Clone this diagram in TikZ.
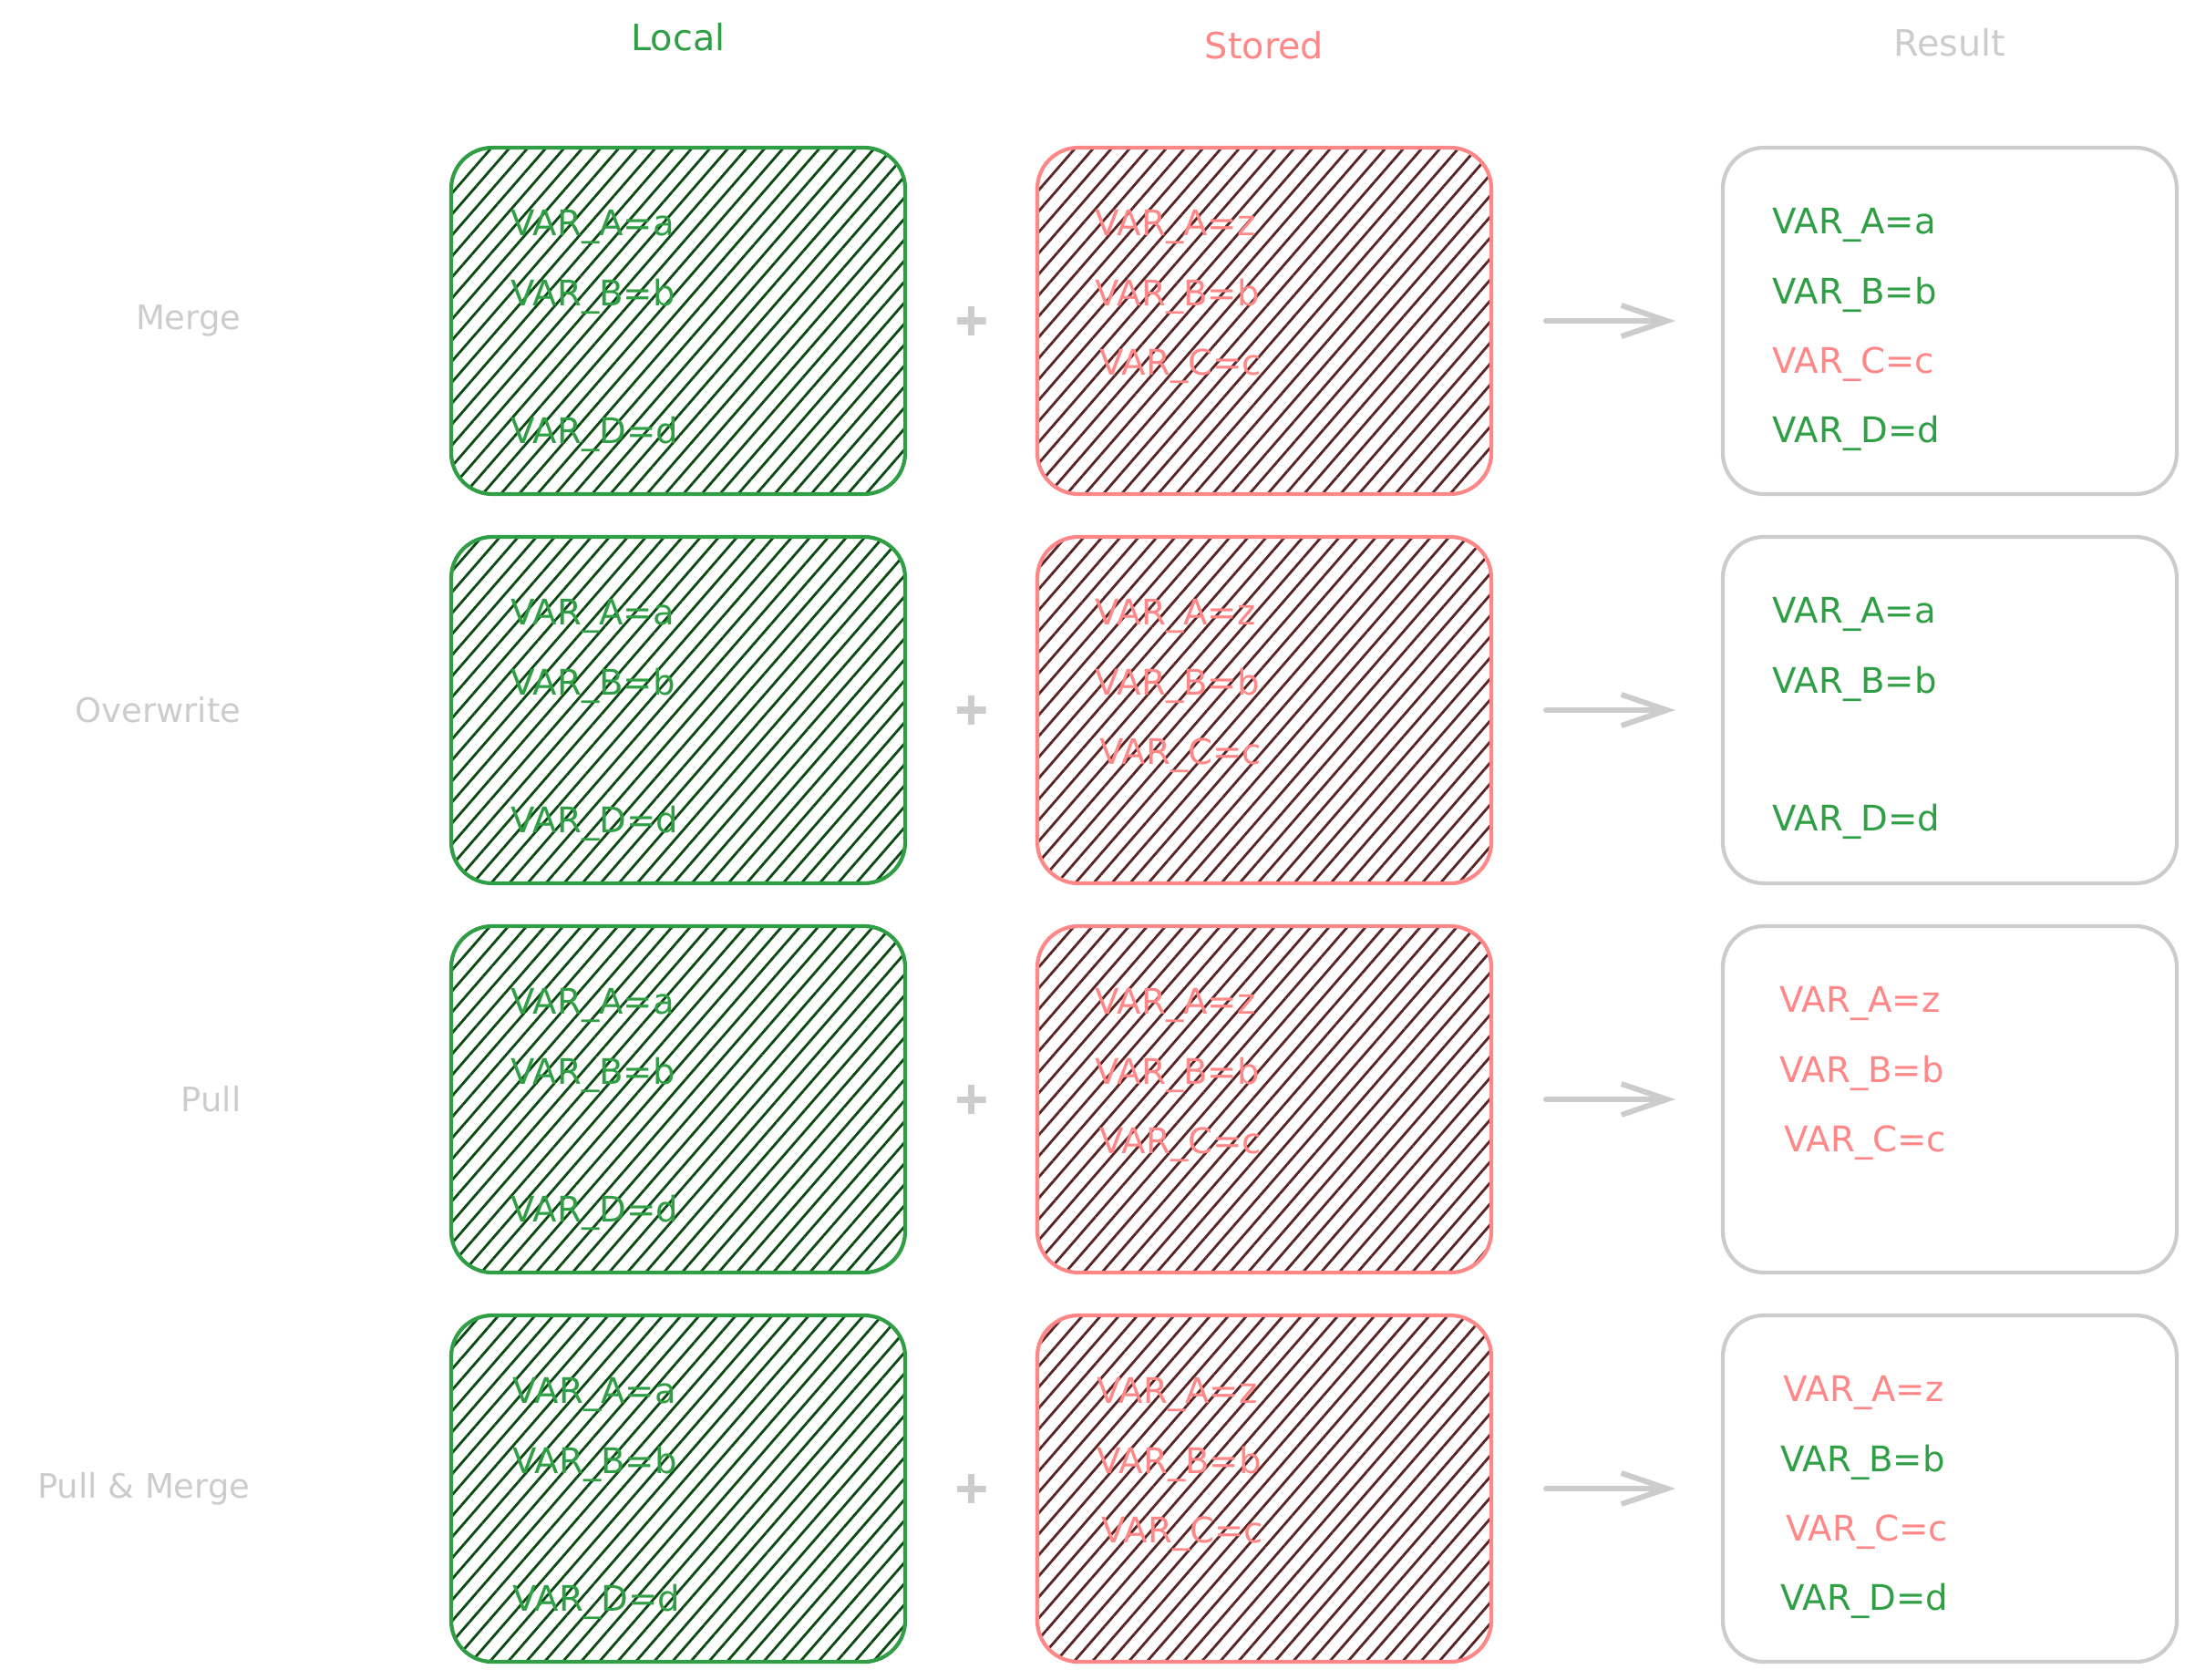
\documentclass[tikz,border=0pt]{standalone}
\usepackage{fontspec}
\setmainfont{DejaVu Sans}
\usetikzlibrary{positioning,calc,patterns.meta,arrows.meta}
\definecolor{localgreen}{HTML}{2F9E44}
\definecolor{storedred}{HTML}{FF8787}
\definecolor{resultgray}{HTML}{CCCCCC}
\definecolor{hatchgreen}{HTML}{0B4A12}
\definecolor{hatchred}{HTML}{5A2424}
\tikzstyle{box}=[rectangle,rounded corners=0.45cm,line width=1.2pt,
minimum width=4.98cm,minimum height=3.8cm,inner sep=0pt,outer sep=0pt]
\tikzstyle{localbox}=[box,draw=localgreen,
pattern={Lines[angle=49,distance=4.3pt,line width=0.8pt]},pattern color=hatchgreen]
\tikzstyle{storedbox}=[box,draw=storedred,
pattern={Lines[angle=49,distance=4.3pt,line width=0.8pt]},pattern color=hatchred]
\tikzstyle{resultbox}=[box,draw=resultgray]
\tikzstyle{var}=[font=\fontsize{11}{13}\selectfont,inner sep=0pt,
text width=2.4cm,align=left,text height=0.31cm,text depth=0.09cm]
\tikzstyle{gvar}=[var,text=localgreen]
\tikzstyle{rvar}=[var,text=storedred]
\tikzstyle{title}=[font=\fontsize{11.3}{13}\selectfont,inner sep=0pt,text depth=0pt]
\tikzstyle{rowlabel}=[font=\fontsize{10.5}{12}\selectfont,text=resultgray,inner sep=0pt]
\tikzstyle{plus}=[minimum size=0.32cm,inner sep=0pt,
path picture={\draw[resultgray,line width=2pt]
(path picture bounding box.north) -- (path picture bounding box.south)
(path picture bounding box.west) -- (path picture bounding box.east);}]
\tikzstyle{flow}=[draw=resultgray,line width=1.7pt,line cap=round,
-{Straight Barb[length=5mm,width=3.4mm]},shorten <=0.6cm,shorten >=0.52cm]

\begin{document}
\begin{tikzpicture}
            \useasboundingbox (0,0) rectangle (24.08,-18.42);

            % MERGE PART

            \node[localbox,anchor=north west] (l1) at (4.95,-1.62) {};
            \node[storedbox,right=1.45cm of l1] (s1) {};
            \node[resultbox,right=2.54cm of s1] (r1) {};
            \node[rowlabel,left=2.3cm of l1] (m1) {Merge};

            \node[title,text=localgreen,above=1.06cm of l1] (h1) {Local};
            \node[title,text=storedred,above=0.97cm of s1] (h2) {Stored};
            \node[title,text=resultgray,above=1.0cm of r1] (h3) {Result};

            \node[gvar,below right=0.65cm and 0.65cm of l1.north west] (la1) {VAR\_A=a};
            \node[gvar,below=0.35cm of la1] (lb1) {VAR\_B=b};
            \node[gvar,below=1.1cm of lb1] (ld1) {VAR\_D=d};

            \node[rvar,below right=0.65cm and 0.63cm of s1.north west] (sa1) {VAR\_A=z};
            \node[rvar,below=0.35cm of sa1] (sb1) {VAR\_B=b};
            \node[rvar,below=0.35cm of sb1,xshift=0.05cm] (sc1) {VAR\_C=c};

            \node[gvar,below right=0.63cm and 0.54cm of r1.north west] (ra1) {VAR\_A=a};
            \node[gvar,below=0.35cm of ra1] (rb1) {VAR\_B=b};
            \node[rvar,below=0.35cm of rb1] (rc1) {VAR\_C=c};
            \node[gvar,below=0.35cm of rc1] (rd1) {VAR\_D=d};

            \node[plus] (pl1) at ($(l1.east)!0.5!(s1.west)$) {};
            \path[flow] (s1) edge (r1);

            % OVERWRITE PART

            \node[localbox,below=0.47cm of l1] (l2) {};
            \node[storedbox,right=1.45cm of l2] (s2) {};
            \node[resultbox,right=2.54cm of s2] (r2) {};
            \node[rowlabel,left=2.3cm of l2] (m2) {Overwrite};

            \node[gvar,below right=0.65cm and 0.65cm of l2.north west] (la2) {VAR\_A=a};
            \node[gvar,below=0.35cm of la2] (lb2) {VAR\_B=b};
            \node[gvar,below=1.1cm of lb2] (ld2) {VAR\_D=d};

            \node[rvar,below right=0.65cm and 0.63cm of s2.north west] (sa2) {VAR\_A=z};
            \node[rvar,below=0.35cm of sa2] (sb2) {VAR\_B=b};
            \node[rvar,below=0.35cm of sb2,xshift=0.05cm] (sc2) {VAR\_C=c};

            \node[gvar,below right=0.63cm and 0.54cm of r2.north west] (ra2) {VAR\_A=a};
            \node[gvar,below=0.35cm of ra2] (rb2) {VAR\_B=b};
            \node[gvar,below=1.1cm of rb2] (rd2) {VAR\_D=d};

            \node[plus] (pl2) at ($(l2.east)!0.5!(s2.west)$) {};
            \path[flow] (s2) edge (r2);

            % PULL PART

            \node[localbox,below=0.47cm of l2] (l3) {};
            \node[storedbox,right=1.45cm of l3] (s3) {};
            \node[resultbox,right=2.54cm of s3] (r3) {};
            \node[rowlabel,left=2.3cm of l3] (m3) {Pull};

            \node[gvar,below right=0.65cm and 0.65cm of l3.north west] (la3) {VAR\_A=a};
            \node[gvar,below=0.35cm of la3] (lb3) {VAR\_B=b};
            \node[gvar,below=1.1cm of lb3] (ld3) {VAR\_D=d};

            \node[rvar,below right=0.65cm and 0.63cm of s3.north west] (sa3) {VAR\_A=z};
            \node[rvar,below=0.35cm of sa3] (sb3) {VAR\_B=b};
            \node[rvar,below=0.35cm of sb3,xshift=0.05cm] (sc3) {VAR\_C=c};

            \node[rvar,below right=0.63cm and 0.62cm of r3.north west] (ra3) {VAR\_A=z};
            \node[rvar,below=0.35cm of ra3] (rb3) {VAR\_B=b};
            \node[rvar,below=0.35cm of rb3,xshift=0.05cm] (rc3) {VAR\_C=c};

            \node[plus] (pl3) at ($(l3.east)!0.5!(s3.west)$) {};
            \path[flow] (s3) edge (r3);

            % PULL & MERGE PART

            \node[localbox,below=0.47cm of l3] (l4) {};
            \node[storedbox,right=1.45cm of l4] (s4) {};
            \node[resultbox,right=2.54cm of s4] (r4) {};
            \node[rowlabel,left=2.2cm of l4] (m4) {Pull \& Merge};

            \node[gvar,below right=0.65cm and 0.67cm of l4.north west] (la4) {VAR\_A=a};
            \node[gvar,below=0.35cm of la4] (lb4) {VAR\_B=b};
            \node[gvar,below=1.1cm of lb4] (ld4) {VAR\_D=d};

            \node[rvar,below right=0.65cm and 0.65cm of s4.north west] (sa4) {VAR\_A=z};
            \node[rvar,below=0.35cm of sa4] (sb4) {VAR\_B=b};
            \node[rvar,below=0.35cm of sb4,xshift=0.05cm] (sc4) {VAR\_C=c};

            \node[rvar,below right=0.63cm and 0.66cm of r4.north west] (ra4) {VAR\_A=z};
            \node[gvar,below=0.35cm of ra4,xshift=-0.03cm] (rb4) {VAR\_B=b};
            \node[rvar,below=0.35cm of rb4,xshift=0.06cm] (rc4) {VAR\_C=c};
            \node[gvar,below=0.35cm of rc4,xshift=-0.06cm] (rd4) {VAR\_D=d};

            \node[plus] (pl4) at ($(l4.east)!0.5!(s4.west)$) {};
            \path[flow] (s4) edge (r4);

\end{tikzpicture}
\end{document}
